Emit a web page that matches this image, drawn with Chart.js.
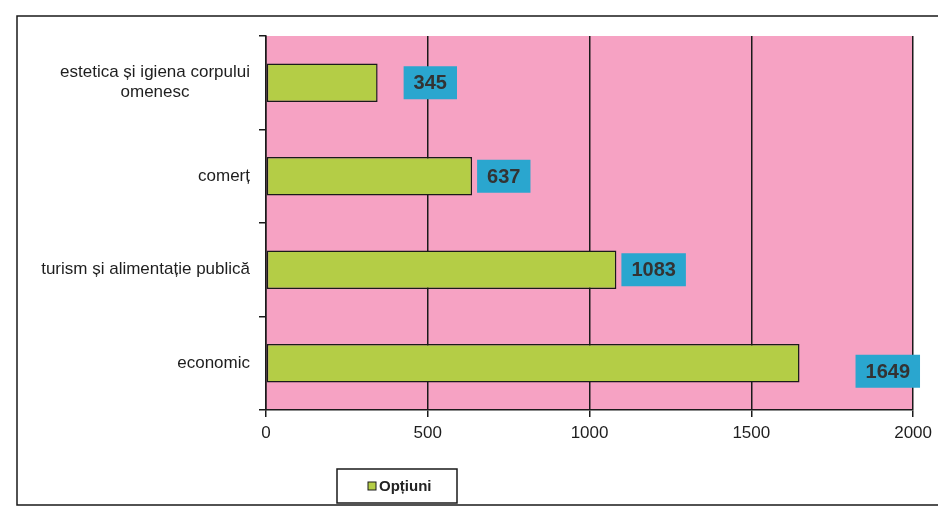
<!DOCTYPE html>
<html>
<head>
<meta charset="utf-8">
<script src="https://cdn.jsdelivr.net/npm/chart.js@4.4.1/dist/chart.umd.min.js"></script>
<style>
  html, body { margin: 0; padding: 0; background: #ffffff; }
  #wrap { width: 938px; height: 515px; position: relative; }
</style>
</head>
<body>
<div id="wrap"><canvas id="c" width="938" height="515"></canvas></div>
<script>
const categories = [
  ['estetica și igiena corpului', 'omenesc'],
  'comerț',
  'turism și alimentație publică',
  'economic'
];
const values = [345, 637, 1083, 1649];
const seriesName = 'Opțiuni';
const xTicks = [0, 500, 1000, 1500, 2000];

const labelGaps = [26, 5, 5, 56];   // style: gap between bar end and value box

const FONT = '"Liberation Sans", Arial, sans-serif';

const framePlugin = {
  id: 'frame',
  beforeDraw(chart) {
    const ctx = chart.ctx;
    ctx.save();
    ctx.fillStyle = '#ffffff';
    ctx.fillRect(0, 0, chart.width, chart.height);
    const a = chart.chartArea;
    ctx.fillStyle = '#f6a2c3';
    ctx.fillRect(a.left, a.top, a.right - a.left, a.bottom - a.top);
    ctx.strokeStyle = '#1a1a1a';
    ctx.lineWidth = 1.5;
    ctx.beginPath();
    ctx.moveTo(945, 16);
    ctx.lineTo(17, 16);
    ctx.lineTo(17, 505);
    ctx.lineTo(945, 505);
    ctx.stroke();
    ctx.restore();
  },
  afterDraw(chart) {
    const ctx = chart.ctx;
    const yScale = chart.scales.y;
    const xScale = chart.scales.x;
    ctx.save();
    // category labels, each block centred on its widest line, right edge fixed
    ctx.font = '17px ' + FONT;
    ctx.fillStyle = '#1e1e1e';
    ctx.textBaseline = 'middle';
    ctx.textAlign = 'center';
    const rightEdge = chart.chartArea.left - 16;
    const lh = 20;
    chart.data.labels.forEach((lab, i) => {
      const lines = Array.isArray(lab) ? lab : [lab];
      const w = Math.max(...lines.map(l => ctx.measureText(l).width));
      const cx = rightEdge - w / 2;
      const cy = yScale.getPixelForValue(i) - (lines.length - 1) * lh / 2;
      lines.forEach((l, k) => ctx.fillText(l, cx, cy + k * lh));
    });
    // value boxes
    const meta = chart.getDatasetMeta(0);
    ctx.font = 'bold 20px ' + FONT;
    meta.data.forEach((bar, i) => {
      const txt = String(chart.data.datasets[0].data[i]);
      const tw = ctx.measureText(txt).width;
      const bw = tw + 20, bh = 33;
      const x0 = xScale.getPixelForValue(chart.data.datasets[0].data[i]) + labelGaps[i];
      const y0 = bar.y - bh / 2 + (i === 3 ? 8 : 0);
      ctx.fillStyle = '#2aa6cf';
      ctx.fillRect(x0, y0, bw, bh);
      ctx.fillStyle = '#333333';
      ctx.textAlign = 'center';
      ctx.fillText(txt, x0 + bw / 2, y0 + bh / 2 + 1);
    });
    // legend
    const ds = chart.data.datasets[0];
    const lx = 337, ly = 469, lw = 120, lhgt = 34;
    ctx.fillStyle = '#ffffff';
    ctx.fillRect(lx, ly, lw, lhgt);
    ctx.strokeStyle = '#1a1a1a';
    ctx.lineWidth = 1.5;
    ctx.strokeRect(lx, ly, lw, lhgt);
    ctx.fillStyle = ds.backgroundColor;
    ctx.fillRect(368, ly + lhgt / 2 - 4, 8, 8);
    ctx.lineWidth = 1;
    ctx.strokeRect(368, ly + lhgt / 2 - 4, 8, 8);
    ctx.font = 'bold 15px ' + FONT;
    ctx.fillStyle = '#222222';
    ctx.textAlign = 'left';
    ctx.fillText(ds.label, 379, ly + lhgt / 2 + 1);
    ctx.restore();
  }
};

new Chart(document.getElementById('c'), {
  type: 'bar',
  data: {
    labels: categories,
    datasets: [{
      label: seriesName,
      data: values,
      backgroundColor: '#b4cd46',
      borderColor: '#1a1a1a',
      borderWidth: 1.5,
      borderSkipped: false,
      barPercentage: 0.41,
      categoryPercentage: 1.0
    }]
  },
  options: {
    indexAxis: 'y',
    responsive: false,
    animation: false,
    devicePixelRatio: 1,
    layout: { padding: { left: 0, right: 24, top: 36, bottom: 0 } },
    plugins: {
      legend: { display: false },
      tooltip: { enabled: false }
    },
    scales: {
      x: {
        min: 0,
        max: 2000,
        afterBuildTicks(scale) { scale.ticks = xTicks.map(v => ({ value: v })); },
        afterFit(scale) { scale.height = 105; },
        border: { display: true, color: '#1a1a1a', width: 1.5 },
        grid: {
          color: '#1a1a1a',
          lineWidth: 1.5,
          drawOnChartArea: true,
          drawTicks: true,
          tickLength: 7,
          tickColor: '#1a1a1a'
        },
        ticks: {
          color: '#1e1e1e',
          font: { family: FONT, size: 17 },
          padding: 6,
          maxRotation: 0,
          callback: (v) => String(v)
        }
      },
      y: {
        afterFit(scale) { scale.width = 266; },
        border: { display: true, color: '#1a1a1a', width: 1.5 },
        grid: {
          offset: true,
          drawOnChartArea: false,
          drawTicks: true,
          tickLength: 7,
          color: '#1a1a1a',
          lineWidth: 1.5
        },
        ticks: { display: false }
      }
    }
  },
  plugins: [framePlugin]
});
</script>
</body>
</html>
